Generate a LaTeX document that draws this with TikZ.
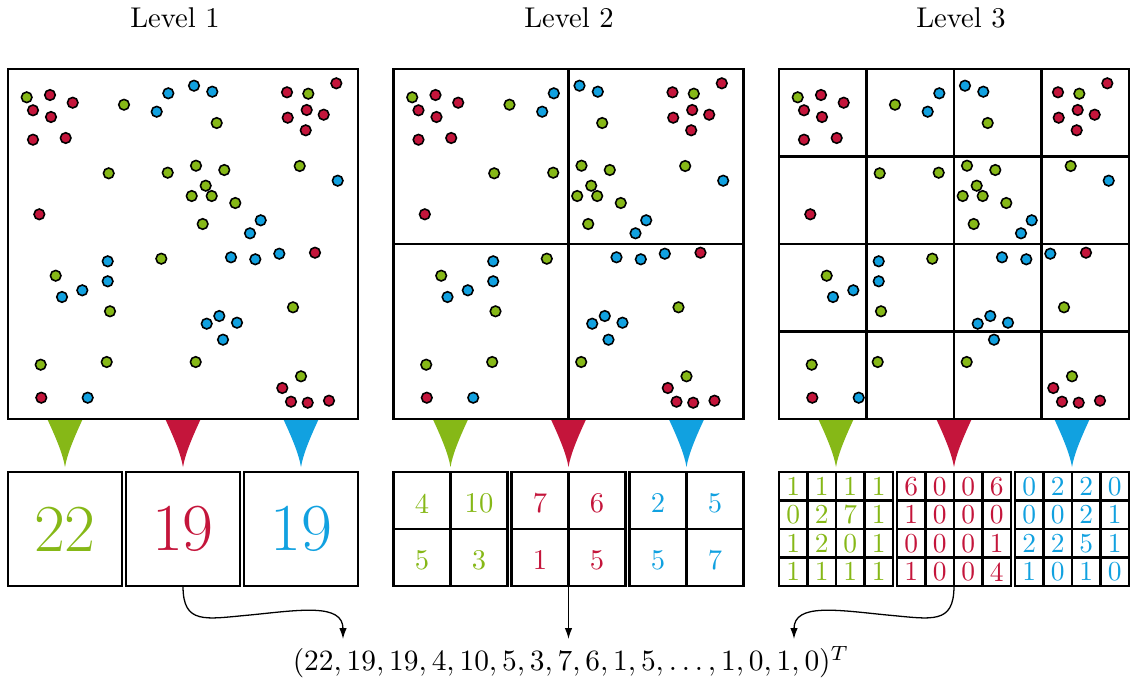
\documentclass[tikz,border=0pt]{standalone}
\usetikzlibrary{arrows.meta}
\definecolor{cgreen}{RGB}{134,184,23}
\definecolor{cred}{RGB}{196,21,59}
\definecolor{cblue}{RGB}{17,161,224}
\newcommand\funnelshape[2]{%
  \fill[#2] (#1-17.5,419.5) .. controls (#1-8,440) and (#1-2,455) .. (#1,467)
     .. controls (#1+2,455) and (#1+8,440) .. (#1+17.5,419.5) -- cycle;}
% #1 prefix, #2 left x, #3 colour, #4 rows
\newcommand\cellgrid[4]{%
  \foreach \rowlist [count=\rr from 0] in {#4} {%
    \foreach \vv [count=\cc from 0] in \rowlist {%
      \node[lthree, text=#3] (#1-\rr-\cc) at (#2+28.5*\cc+14.25, 472+28.5*\rr+14.25) {\vv};
    }%
  }%
  \foreach \k in {1,2,3} {%
    \draw[frame] (#2+28.5*\k,472) -- (#2+28.5*\k,586);
    \draw[frame] (#2,472+28.5*\k) -- (#2+114,472+28.5*\k);
  }%
}
\begin{document}
\begin{tikzpicture}[x=0.35pt,y=-0.35pt,
  frame/.style={draw=black, line width=0.75pt},
  cbox/.style={draw=black, line width=0.75pt, minimum width=39.9pt, minimum height=39.9pt, inner sep=0pt, outer sep=0pt},
  title/.style={font=\normalsize},
  lone/.style={font=\fontsize{23.5}{28}\selectfont},
  ltwo/.style={font=\normalsize, inner sep=0pt, yshift=-1pt},
  lthree/.style={font=\fontsize{9.6}{11}\selectfont, inner sep=0pt},
  gdot/.style={fill=cgreen, draw=black, line width=0.55pt},
  rdot/.style={fill=cred, draw=black, line width=0.55pt},
  bdot/.style={fill=cblue, draw=black, line width=0.55pt},
  link/.style={draw=black, line width=0.45pt, -{Latex[length=3.8pt,width=2.6pt]}}
]
\useasboundingbox (0,0) rectangle (1132,684);

% titles
\node[title] (t1) at (175,18) {Level 1};
\node[title] (t2) at (569,18) {Level 2};
\node[title] (t3) at (961,18) {Level 3};

% funnels
\foreach \o in {0,385.5,771} {
  \funnelshape{65+\o}{cgreen}
  \funnelshape{183+\o}{cred}
  \funnelshape{301+\o}{cblue}
}

% squares
\foreach \o in {0,385.5,771} {
  \draw[frame] (8+\o,69) rectangle (358+\o,419);
}
% level 2 grid
\draw[frame] (568.5,69) -- (568.5,419);
\draw[frame] (393.5,244) -- (743.5,244);
% level 3 grid
\foreach \k in {1,2,3} {
  \draw[frame] (779+87.5*\k,69) -- (779+87.5*\k,419);
  \draw[frame] (779,69+87.5*\k) -- (1129,69+87.5*\k);
}

% dots
\foreach \o in {0,385.5,771} {
  \foreach \x/\y in {26.7/97.3, 124/104.7, 108.7/173.3, 167.7/172.7, 216.7/123, 308.3/93.7, 196/165.7, 224.3/170, 299.7/166, 205.7/185.7, 191.7/196, 211.7/196, 235.3/203, 202.7/224, 161.3/258.7, 55.7/275.7, 110/311.3, 40.7/364.7, 106.7/362, 293/307.3, 195.7/362, 301/376.3}
    \filldraw[gdot] (\x+\o,\y) circle[radius=1.85pt];
  \foreach \x/\y in {50/95, 72.7/102.7, 33/110.3, 51/117, 33/139.7, 65.7/138, 39.3/214.3, 287/92.3, 336.3/83.3, 306.7/110, 323.7/114.7, 287.7/117.7, 305.7/130.3, 41.3/397.7, 315/252.7, 282.3/388, 291/401.7, 307.7/402.7, 329/400.7}
    \filldraw[rdot] (\x+\o,\y) circle[radius=1.85pt];
  \foreach \x/\y in {156.7/111.7, 168.3/93.3, 194/85.7, 212.3/91.7, 337.7/180.7, 260.7/220.3, 250/233.3, 107.7/261.3, 107.7/281.3, 82.3/290.3, 62/297, 87.7/397.7, 231/257.3, 255.3/259.3, 279.3/253.7, 219.3/316, 206.7/323.7, 237/322.7, 223/339.7}
    \filldraw[bdot] (\x+\o,\y) circle[radius=1.85pt];
}

% level 1 boxes
\node[cbox, lone, text=cgreen] (b11) at (65,529) {22};
\node[cbox, lone, text=cred] (b12) at (183,529) {19};
\node[cbox, lone, text=cblue] (b13) at (301,529) {19};

% level 2 boxes
\node[cbox] (b21) at (450.5,529) {};
\node[cbox] (b22) at (568.5,529) {};
\node[cbox] (b23) at (686.5,529) {};
\foreach \b in {b21,b22,b23} {
  \draw[frame] (\b.north) -- (\b.south);
  \draw[frame] (\b.west) -- (\b.east);
}
\node[ltwo, text=cgreen] (g2a) at (422,500.5) {4};
\node[ltwo, text=cgreen] (g2b) at (479,500.5) {10};
\node[ltwo, text=cgreen] (g2c) at (422,557.5) {5};
\node[ltwo, text=cgreen] (g2d) at (479,557.5) {3};
\node[ltwo, text=cred] (r2a) at (540,500.5) {7};
\node[ltwo, text=cred] (r2b) at (597,500.5) {6};
\node[ltwo, text=cred] (r2c) at (540,557.5) {1};
\node[ltwo, text=cred] (r2d) at (597,557.5) {5};
\node[ltwo, text=cblue] (u2a) at (658,500.5) {2};
\node[ltwo, text=cblue] (u2b) at (715,500.5) {5};
\node[ltwo, text=cblue] (u2c) at (658,557.5) {5};
\node[ltwo, text=cblue] (u2d) at (715,557.5) {7};

% level 3 boxes
\node[cbox] (b31) at (836,529) {};
\node[cbox] (b32) at (954,529) {};
\node[cbox] (b33) at (1072,529) {};
\cellgrid{g3}{779}{cgreen}{{1,1,1,1},{0,2,7,1},{1,2,0,1},{1,1,1,1}}
\cellgrid{r3}{897}{cred}{{6,0,0,6},{1,0,0,0},{0,0,0,1},{1,0,0,4}}
\cellgrid{u3}{1015}{cblue}{{0,2,2,0},{0,0,2,1},{2,2,5,1},{1,0,1,0}}

% vector
\node[font=\normalsize, scale=1.03] (vec) at (571,662) {$(22, 19, 19, 4, 10, 5, 3, 7, 6, 1, 5, \ldots, 1, 0, 1, 0)^T$};
\coordinate (e1) at (343,639);
\coordinate (e2) at (568.5,639);
\coordinate (e3) at (794,639);

\draw[link] (b12.south) .. controls (183,625) and (205,619) .. (250,615)
   .. controls (300,610) and (343,603) .. (e1);
\draw[link] (b22.south) -- (e2);
\draw[link] (b32.south) .. controls (954,625) and (932,619) .. (887,615)
   .. controls (837,610) and (794,603) .. (e3);
\end{tikzpicture}
\end{document}
